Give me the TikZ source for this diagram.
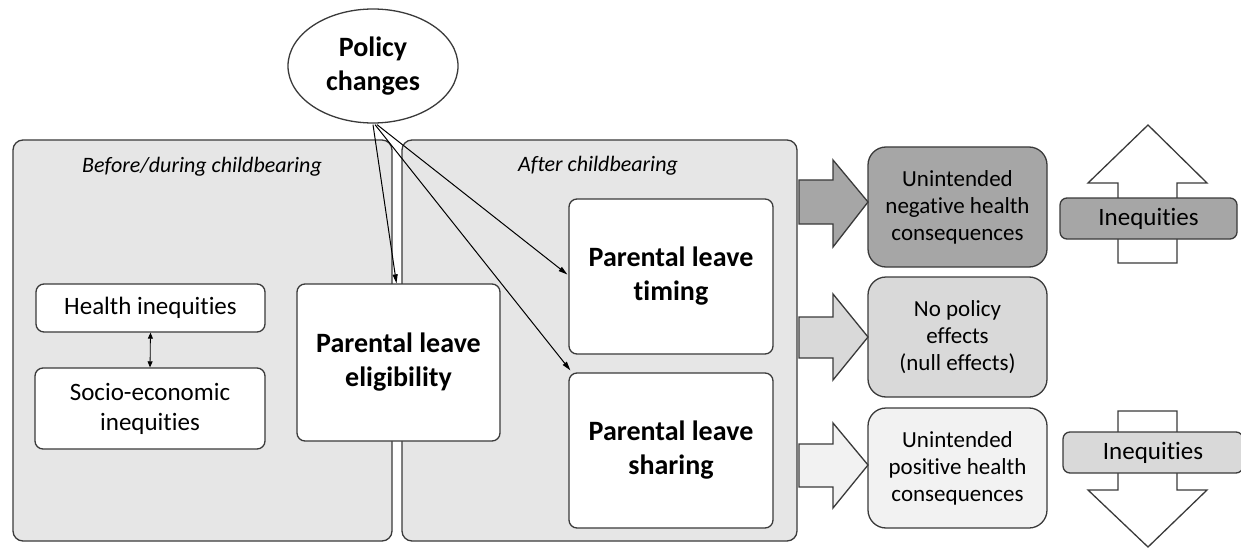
\documentclass[tikz,border=0pt]{standalone}
\usepackage{fontspec}
\setmainfont{Carlito}[Ligatures=NoCommon]
\usetikzlibrary{shapes.geometric, arrows.meta, calc}
\definecolor{panelgray}{HTML}{E6E6E6}
\definecolor{edgegray}{HTML}{3A3A3A}
\definecolor{darkfill}{HTML}{A6A6A6}
\definecolor{midfill}{HTML}{D9D9D9}
\definecolor{lightfill}{HTML}{F2F2F2}
\begin{document}
\begin{tikzpicture}[x=1pt,y=-1pt,
  panel/.style={draw=edgegray, fill=panelgray, line width=1.3pt, rounded corners=10pt},
  wbox/.style={draw=edgegray, fill=white, line width=1.3pt, rounded corners=8pt, align=center, inner sep=0pt},
  obox/.style={draw=edgegray, line width=1.3pt, rounded corners=18pt, align=center, inner sep=0pt,
    minimum width=179pt, minimum height=120pt, font=\fontsize{23}{27}\selectfont},
  ibox/.style={draw=edgegray, line width=1.3pt, rounded corners=7pt, inner sep=0pt,
    minimum height=41pt, font=\fontsize{25}{29}\selectfont},
  blk/.style={draw=edgegray, line width=1.3pt, line join=miter},
  conn/.style={draw=black, line width=1pt, -{Triangle[length=9pt,width=5pt]}},
  bigbold/.style={font=\bfseries\fontsize{28}{34}\selectfont},
  label/.style={font=\itshape\fontsize{22}{26}\selectfont}
]
\useasboundingbox (0,0) rectangle (1241,548);

% panels
\node[panel, minimum width=379pt, minimum height=401pt, inner sep=0pt] (before) at (202.5,340.5) {};
\node[panel, minimum width=395pt, minimum height=401pt, inner sep=0pt] (after) at (599.5,340.5) {};
\node[label] (beforelbl) at (202,167) {Before/during childbearing};
\node[label] (afterlbl) at (598,166) {After childbearing};

% left boxes
\node[wbox, minimum width=229pt, minimum height=48pt, font=\fontsize{25}{30}\selectfont] (health) at (150.5,308) {Health inequities};
\node[wbox, minimum width=230pt, minimum height=81pt, font=\fontsize{25}{30}\selectfont] (socio) at (150,408.5) {Socio-economic\\inequities};
\draw[line width=0.8pt, {Triangle[length=6pt,width=5pt]}-{Triangle[length=6pt,width=5pt]}] (health.south) -- (socio.north);

% main boxes
\node[wbox, bigbold, minimum width=203pt, minimum height=157pt] (elig) at (398.5,362.5) {Parental leave\\eligibility};
\node[wbox, bigbold, minimum width=204pt, minimum height=155pt] (timing) at (671,276.5) {Parental leave\\timing};
\node[wbox, bigbold, minimum width=204pt, minimum height=155pt] (sharing) at (671,450.5) {Parental leave\\sharing};

% policy ellipse
\node[draw=edgegray, fill=white, ellipse, line width=1.3pt, minimum width=170pt, minimum height=114pt,
  inner sep=0pt, align=center, font=\bfseries\fontsize{28}{34}\selectfont] (policy) at (373,66) {Policy\\changes};

% connectors from policy
\draw[conn] ($(policy.south)+(0,1)$) -- ($(elig.north west)!0.49!(elig.north east)$);
\draw[conn] ($(policy.south)+(2,1)$) -- ($(sharing.north west)+(2,-2)$);
\draw[conn] ($(policy.south)+(4,1)$) -- ($(timing.west)+(-1,-2)$);

% outcome boxes
\node[obox, fill=darkfill] (neg) at (957.5,207) {Unintended\\negative health\\consequences};
\node[obox, fill=midfill] (null) at (957.5,337) {No policy\\effects\\(null effects)};
\node[obox, fill=lightfill] (pos) at (957.5,468) {Unintended\\positive health\\consequences};

% block arrows
\draw[blk, fill=darkfill] (799,180) -- (833,180) -- (833,160) -- (868,202) -- (833,247) -- (833,224) -- (799,224) -- cycle;
\draw[blk, fill=midfill] (799,317) -- (833,317) -- (833,294) -- (868,337) -- (833,380) -- (833,358) -- (799,358) -- cycle;
\draw[blk, fill=lightfill] (799,444) -- (833,444) -- (833,423) -- (868,465) -- (833,508) -- (833,487) -- (799,487) -- cycle;

% up arrow + inequities
\draw[blk, fill=white] (1118,263) -- (1118,183) -- (1088,183) -- (1148,125) -- (1207,183) -- (1177,183) -- (1177,263) -- cycle;
\node[ibox, fill=darkfill, minimum width=177pt] (inequp) at (1148.5,218.5) {Inequities};

% down arrow + inequities
\draw[blk, fill=white] (1118,411) -- (1177,411) -- (1177,490) -- (1207,490) -- (1148,547) -- (1088,490) -- (1118,490) -- cycle;
\node[ibox, fill=midfill, minimum width=180pt] (ineqdown) at (1153,452.5) {Inequities};
\end{tikzpicture}
\end{document}
